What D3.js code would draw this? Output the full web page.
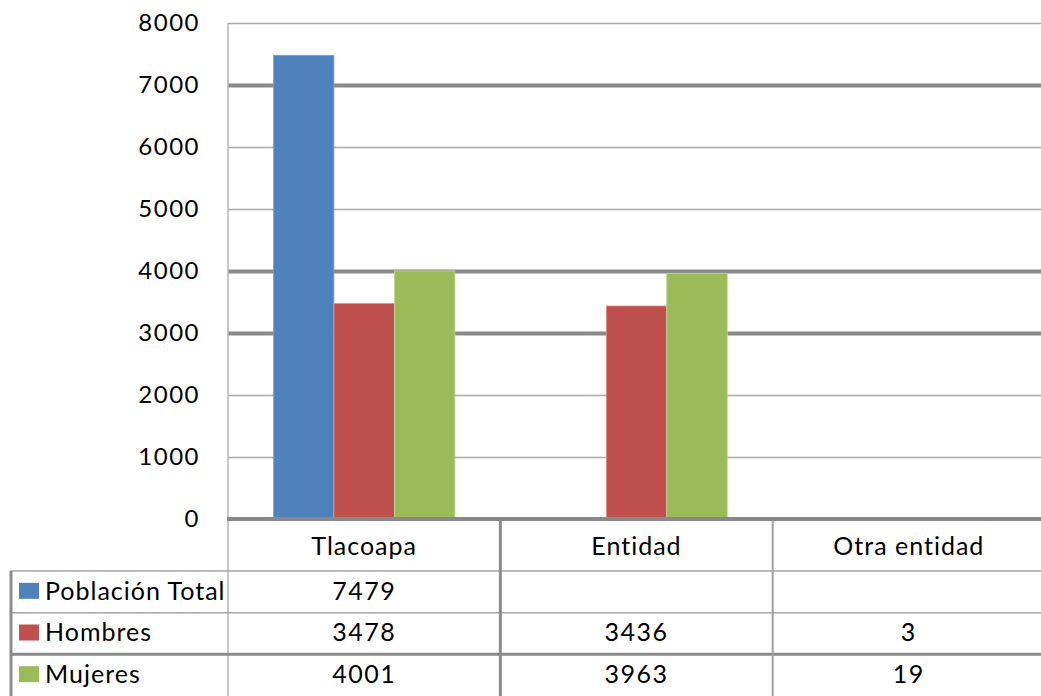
<!DOCTYPE html>
<html>
<head>
<meta charset="utf-8">
<script src="https://cdn.jsdelivr.net/npm/d3@7"></script>
<style>
  body { margin: 0; background: #fff; }
  svg { display: block; font-family: Lato, "Open Sans", sans-serif; }
</style>
</head>
<body>
<svg id="chart" width="1041" height="696"></svg>
<script>
// values
var categories = ['Tlacoapa', 'Entidad', 'Otra entidad'];
var seriesNames = ['Población Total', 'Hombres', 'Mujeres'];
var poblacionTotal = [7479, null, null];
var hombres = [3478, 3436, 3];
var mujeres = [4001, 3963, 19];
var yTicks = [0, 1000, 2000, 3000, 4000, 5000, 6000, 7000, 8000];

var seriesValues = [poblacionTotal, hombres, mujeres];
var colors = ['#4f81bd', '#c0504d', '#9bbb59'];
var edgeColors = ['#7fa3d3', '#e19a98', '#c2d99a'];
var thickGrid = [3000, 4000, 7000]; // these come out heavier in the original

var svg = d3.select('#chart');
var plotLeft = 228, plotRight = 1045, plotTop = 23, plotBottom = 519;

var x = d3.scaleBand().domain(categories).range([plotLeft, plotRight]).paddingInner(0).paddingOuter(0);
var xs = d3.scaleBand().domain(seriesNames).range([0, x.bandwidth()]).paddingInner(0).paddingOuter(0.75);
var y = d3.scaleLinear().domain([0, 8000]).range([plotBottom, plotTop]);

// gridlines
var grid = svg.append('g')
    .attr('transform', 'translate(' + plotLeft + ',0)')
    .call(d3.axisLeft(y).tickValues(yTicks.filter(function (d) { return d > 0; }))
        .tickSize(-(plotRight - plotLeft)).tickFormat(''));
grid.select('.domain').remove();
grid.selectAll('line')
    .attr('stroke', function (d) { return thickGrid.indexOf(d) >= 0 ? '#898989' : '#a8a8a8'; })
    .attr('stroke-width', function (d) { return thickGrid.indexOf(d) >= 0 ? 4 : 1.3; });

// tick labels
var yAxis = svg.append('g')
    .attr('transform', 'translate(' + plotLeft + ',0)')
    .call(d3.axisLeft(y).tickValues(yTicks).tickSize(0).tickPadding(28).tickFormat(d3.format('d')));
yAxis.select('.domain').remove();
yAxis.selectAll('text')
    .attr('fill', '#000')
    .style('font-family', 'Lato, sans-serif')
    .style('font-size', '24px')
    .style('letter-spacing', '1.5px');

// bars
seriesNames.forEach(function (name, si) {
    var rows = categories.map(function (c, ci) { return { cat: c, v: seriesValues[si][ci] }; })
        .filter(function (d) { return d.v != null; });
    svg.append('g').selectAll('rect').data(rows).enter().append('rect')
        .attr('x', function (d) { return x(d.cat) + xs(name); })
        .attr('y', function (d) { return y(d.v); })
        .attr('width', xs.bandwidth())
        .attr('height', function (d) { return y(0) - y(d.v); })
        .attr('fill', colors[si])
        .attr('stroke', edgeColors[si])
        .attr('stroke-width', 0.8);
});

// table rows
var tableTop = 571, tableBottom = 696;
var rowY = d3.scaleBand().domain(seriesNames).range([tableTop, tableBottom]);

var lines = svg.append('g');
// left plot edge, down through the table
lines.append('line').attr('x1', plotLeft).attr('x2', plotLeft).attr('y1', plotTop).attr('y2', 696)
    .attr('stroke', '#b4b4b4').attr('stroke-width', 1.5);
// row separators
seriesNames.forEach(function (name, i) {
    lines.append('line')
        .attr('x1', 10).attr('x2', 1041)
        .attr('y1', rowY(name)).attr('y2', rowY(name))
        .attr('stroke', i === 2 ? '#8a8a8a' : '#a4a4a4')
        .attr('stroke-width', i === 2 ? 3 : 1.5);
});
// column separators
lines.append('line').attr('x1', x('Entidad')).attr('x2', x('Entidad')).attr('y1', plotBottom).attr('y2', 696)
    .attr('stroke', '#8a8a8a').attr('stroke-width', 3);
lines.append('line').attr('x1', x('Otra entidad')).attr('x2', x('Otra entidad')).attr('y1', plotBottom).attr('y2', 696)
    .attr('stroke', '#a0a0a0').attr('stroke-width', 2);
// left border of the legend column
lines.append('line').attr('x1', 11).attr('x2', 11).attr('y1', tableTop).attr('y2', 696)
    .attr('stroke', '#8c8c8c').attr('stroke-width', 3);
// category axis line
lines.append('line').attr('x1', plotLeft - 1).attr('x2', 1041).attr('y1', plotBottom).attr('y2', plotBottom)
    .attr('stroke', '#898989').attr('stroke-width', 4);

// header labels
svg.append('g').selectAll('text').data(categories).enter().append('text')
    .attr('x', function (d) { return x(d) + x.bandwidth() / 2; })
    .attr('y', (plotBottom + tableTop) / 2 + 1)
    .attr('dy', '0.35em')
    .attr('text-anchor', 'middle')
    .style('font-size', '25px')
    .style('letter-spacing', '1px')
    .text(function (d) { return d; });

// legend keys + values
seriesNames.forEach(function (name, si) {
    var cy = rowY(name) + rowY.bandwidth() / 2 - 1;
    svg.append('rect').attr('x', 19).attr('y', cy - 8).attr('width', 20).attr('height', 16)
        .attr('fill', colors[si]);
    svg.append('text').attr('x', 45).attr('y', cy).attr('dy', '0.35em')
        .style('font-size', '25px').style('letter-spacing', '1px')
        .text(name);
    svg.append('g').selectAll('text').data(categories).enter().append('text')
        .attr('x', function (d) { return x(d) + x.bandwidth() / 2; })
        .attr('y', cy)
        .attr('dy', '0.35em')
        .attr('text-anchor', 'middle')
        .style('font-size', '25px')
        .style('letter-spacing', '1.5px')
        .text(function (d, ci) { var v = seriesValues[si][ci]; return v == null ? '' : v; });
});
</script>
</body>
</html>
